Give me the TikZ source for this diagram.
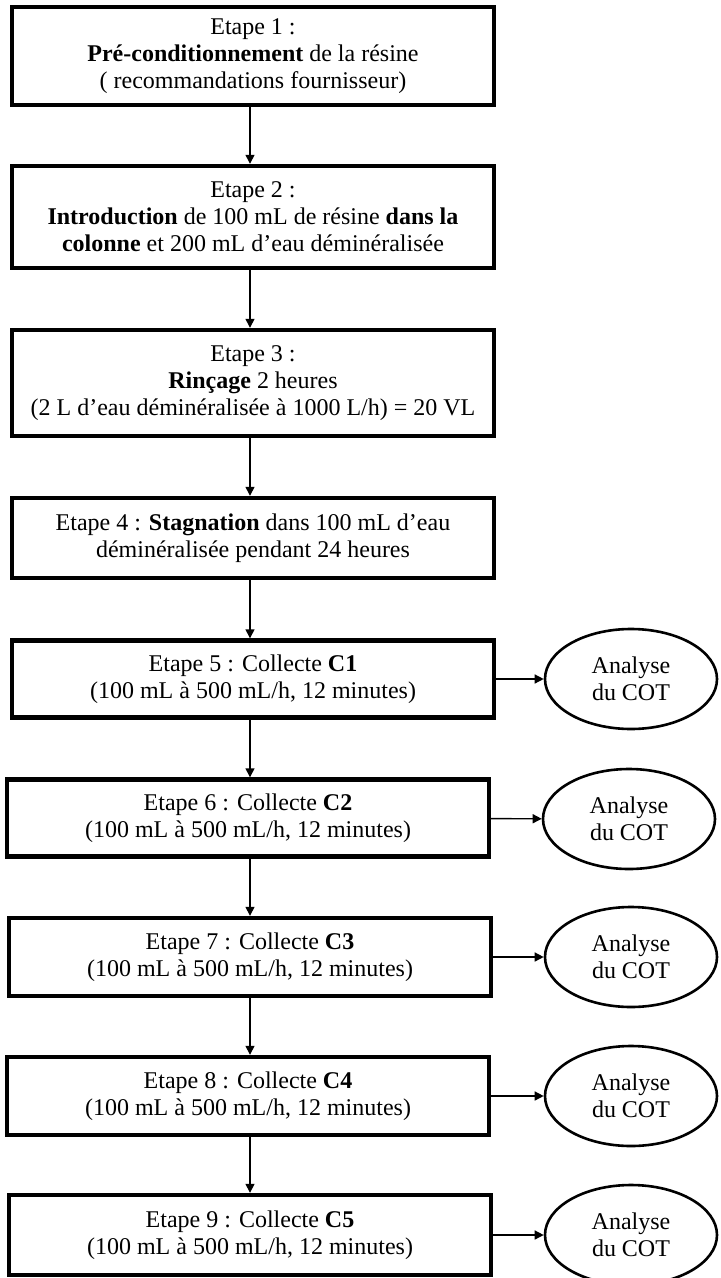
\documentclass[tikz,border=0pt]{standalone}
\usepackage{fontspec}
\setmainfont{Liberation Serif}
\usetikzlibrary{shapes,arrows.meta,positioning}

\begin{document}
\begin{tikzpicture}[x=0.5pt,y=-0.5pt,
  etape/.style={draw,rectangle,line width=2.2pt,minimum width=241pt,align=center,inner sep=2pt,font=\fontsize{12}{13.5}\selectfont},
  analyse/.style={draw,ellipse,line width=1.3pt,minimum width=86pt,minimum height=50pt,align=center,inner sep=0pt,font=\fontsize{12}{13.5}\selectfont},
  flow/.style={line width=0.7pt,-{Triangle[length=4.5pt,width=4.5pt]}}]
\useasboundingbox (0,0) rectangle (720,1278);

% Preparation de la colonne
\node[etape,minimum height=49pt] (step1) at (253,56) {Etape 1 :\\ \textbf{Pré-conditionnement} de la résine\\ ( recommandations fournisseur)};
\node[etape,minimum height=51pt] (step2) at (253,217) {Etape 2 :\\ \textbf{Introduction} de 100 mL de résine \textbf{dans la}\\ \textbf{colonne} et 200 mL d’eau déminéralisée};
\node[etape,minimum height=53pt] (step3) at (253,383) {Etape 3 :\\ \textbf{Rinçage} 2 heures\\ (2 L d’eau déminéralisée à 1000 L/h) = 20 VL};
\node[etape,minimum height=40pt] (step4) at (253,538) {Etape 4 : \textbf{Stagnation} dans 100 mL d’eau\\ déminéralisée pendant 24 heures};

% Collectes
\node[etape,minimum height=38.5pt] (step5) at (253,679) {Etape 5 : Collecte \textbf{C1}\\ (100 mL à 500 mL/h, 12 minutes)};
\node[etape,minimum height=38.5pt] (step6) at (248,818) {Etape 6 : Collecte \textbf{C2}\\ (100 mL à 500 mL/h, 12 minutes)};
\node[etape,minimum height=39pt] (step7) at (250,957) {Etape 7 : Collecte \textbf{C3}\\ (100 mL à 500 mL/h, 12 minutes)};
\node[etape,minimum height=39pt] (step8) at (248,1096) {Etape 8 : Collecte \textbf{C4}\\ (100 mL à 500 mL/h, 12 minutes)};
\node[etape,minimum height=40pt] (step9) at (250,1235) {Etape 9 : Collecte \textbf{C5}\\ (100 mL à 500 mL/h, 12 minutes)};

% Analyses
\node[analyse] (cot5) at (631,679) {Analyse\\ du COT};
\node[analyse] (cot6) at (629,819) {Analyse\\ du COT};
\node[analyse] (cot7) at (631,957) {Analyse\\ du COT};
\node[analyse] (cot8) at (631,1096) {Analyse\\ du COT};
\node[analyse] (cot9) at (631,1235) {Analyse\\ du COT};

% Fleches
\draw[flow] (step1.south -| step9.north) -- (step2.north -| step9.north);
\draw[flow] (step2.south -| step9.north) -- (step3.north -| step9.north);
\draw[flow] (step3.south -| step9.north) -- (step4.north -| step9.north);
\draw[flow] (step4.south -| step9.north) -- (step5.north -| step9.north);
\draw[flow] (step5.south -| step9.north) -- (step6.north -| step9.north);
\draw[flow] (step6.south -| step9.north) -- (step7.north -| step9.north);
\draw[flow] (step7.south -| step9.north) -- (step8.north -| step9.north);
\draw[flow] (step8.south -| step9.north) -- (step9.north);

\draw[flow] (step5) -- (cot5);
\draw[flow] (step6) -- (cot6);
\draw[flow] (step7) -- (cot7);
\draw[flow] (step8) -- (cot8);
\draw[flow] (step9) -- (cot9);
\end{tikzpicture}
\end{document}
